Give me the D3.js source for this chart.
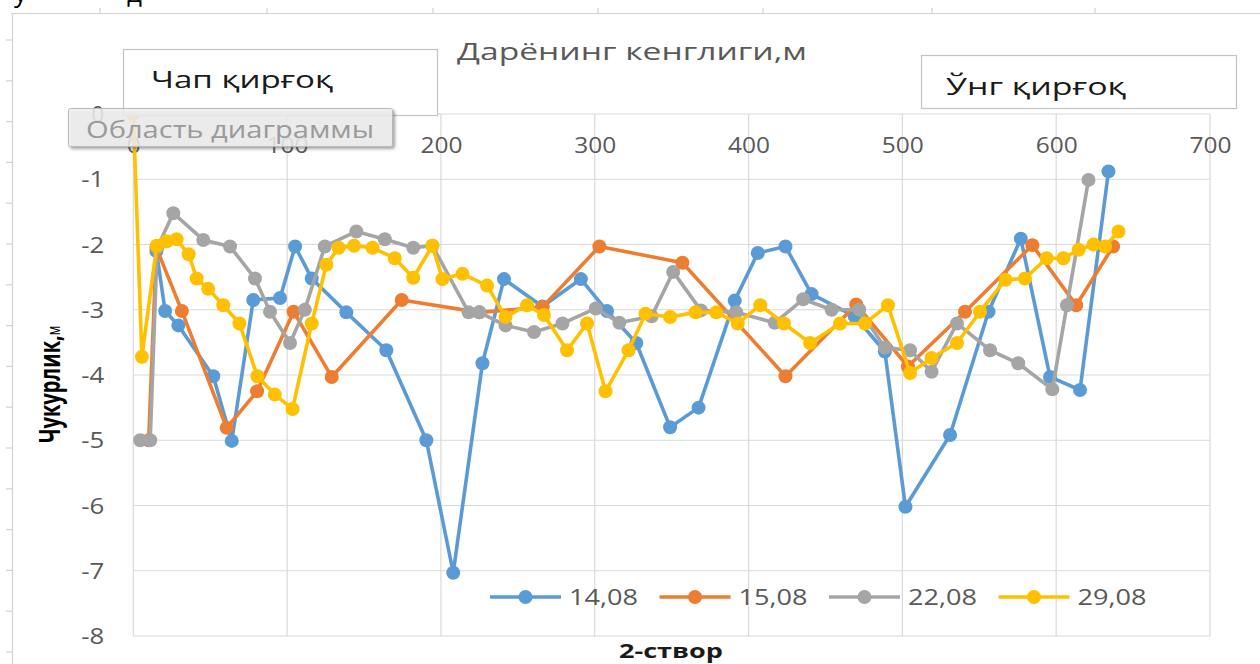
<!DOCTYPE html>
<html><head><meta charset="utf-8">
<script src="https://cdn.jsdelivr.net/npm/d3@7"></script>
<style>body{margin:0;background:#fff;overflow:hidden;} svg{display:block;}</style>
</head><body>
<svg id="c" width="1260" height="664"></svg>
<script>
// ---------- DATA ----------
const seriesNames = ["14,08", "15,08", "22,08", "29,08"];
const seriesColors = ["#5B9BD5", "#ED7D31", "#A5A5A5", "#FFC000"];

const x1408 = [15, 20.7, 29.3, 52, 64, 78, 95.4, 105.2, 116, 138.5, 164.5, 190.5, 208, 227, 241, 266, 291, 308, 327, 349, 367.5, 391, 406, 424, 441, 469, 488.6, 502, 531, 556, 577, 596, 615.5, 634];
const y1408 = [-2.1, -3.02, -3.24, -4.02, -5.01, -2.85, -2.82, -2.03, -2.52, -3.04, -3.62, -5.0, -7.03, -3.82, -2.53, -2.95, -2.53, -3.02, -3.51, -4.8, -4.5, -2.86, -2.13, -2.03, -2.76, -3.1, -3.64, -6.02, -4.92, -3.03, -1.91, -4.03, -4.23, -0.88];

const x1508 = [10, 15, 31.6, 60.7, 80.5, 104.2, 129, 174.5, 225, 266, 303, 357, 424, 470, 503.6, 540.7, 584.5, 613, 637];
const y1508 = [-5.0, -2.05, -3.02, -4.81, -4.25, -3.03, -4.03, -2.85, -3.04, -2.96, -2.03, -2.28, -4.02, -2.92, -3.87, -3.03, -2.01, -2.93, -2.03];

const x2208 = [4.5, 11, 15.5, 26, 45.5, 62.9, 79.1, 88.9, 101.9, 111.5, 124.5, 145, 163.5, 182, 194.5, 218, 225, 242, 260.5, 279, 300.7, 316, 337, 351, 369, 392, 417, 435.5, 454, 472, 488.6, 505, 519, 535.5, 557, 575.3, 597.5, 607, 621];
const y2208 = [-5, -5, -2.05, -1.52, -1.93, -2.03, -2.52, -3.03, -3.51, -3.0, -2.03, -1.8, -1.92, -2.05, -2.02, -3.04, -3.04, -3.24, -3.34, -3.21, -2.98, -3.2, -3.1, -2.42, -3.01, -3.04, -3.2, -2.84, -3.0, -3.0, -3.58, -3.62, -3.95, -3.21, -3.62, -3.82, -4.22, -2.93, -1.01];

const x2908 = [0, 5.6, 15.2, 21.7, 28.2, 36, 41.2, 48.7, 58.5, 69, 80.7, 92, 103.5, 116, 125.5, 133.5, 143.5, 155.5, 170, 182, 194.4, 201, 214, 230, 242, 256, 267, 282, 295, 307, 322, 333, 349, 365.5, 379, 393, 407.6, 423, 440, 459.5, 475.7, 490.6, 505, 519, 535.5, 550.5, 567, 579.7, 593.8, 604.7, 614.6, 624.3, 631.8, 640.5];
const y2908 = [0, -3.72, -2.02, -1.95, -1.92, -2.15, -2.52, -2.68, -2.93, -3.21, -4.02, -4.3, -4.52, -3.21, -2.31, -2.05, -2.02, -2.05, -2.21, -2.51, -2.02, -2.53, -2.45, -2.63, -3.11, -2.93, -3.08, -3.62, -3.21, -4.25, -3.62, -3.06, -3.11, -3.04, -3.04, -3.21, -2.93, -3.21, -3.51, -3.21, -3.21, -2.93, -3.97, -3.74, -3.51, -3.03, -2.54, -2.52, -2.21, -2.21, -2.08, -2.0, -2.03, -1.8];

const xTicks = [0, 100, 200, 300, 400, 500, 600, 700];
const yTicks = [0, -1, -2, -3, -4, -5, -6, -7, -8];

const chartTitle = "Дарёнинг кенглиги,м";
const leftBankLabel = "Чап қирғоқ";
const rightBankLabel = "Ўнг қирғоқ";
const tooltipLabel = "Область диаграммы";
const yAxisTitle = "Чукурлик,";
const yAxisUnit = "м";
const xAxisTitle = "2-створ";

// ---------- BUILD ----------
const xs = [x1408, x1508, x2208, x2908];
const ys = [y1408, y1508, y2208, y2908];
const series = seriesNames.map((name, i) => ({
  name, color: seriesColors[i],
  pts: xs[i].map((v, j) => ({x: v, y: ys[i][j]}))
}));

const FONT = "'Open Sans','Noto Sans','DejaVu Sans',sans-serif";
const svg = d3.select("#c");
const x = d3.scaleLinear().domain([0, 700]).range([133.3, 1210]);
const y = d3.scaleLinear().domain([0, -8]).range([114, 636]);

const defs = svg.append("defs");
const f = defs.append("filter").attr("id", "sh").attr("x", "-10%").attr("y", "-30%").attr("width", "130%").attr("height", "180%");
f.append("feDropShadow").attr("dx", 2).attr("dy", 2).attr("stdDeviation", 1.6).attr("flood-color", "#444").attr("flood-opacity", 0.55);

function txt(g, s, x0, yb, size, color, len, weight) {
  const t = g.append("text").attr("x", x0).attr("y", yb)
    .attr("font-family", FONT).attr("font-size", size)
    .attr("fill", color).attr("font-weight", weight || "normal").text(s);
  if (len) t.attr("textLength", len).attr("lengthAdjust", "spacingAndGlyphs");
  return t;
}

// chart-area border & ruler ticks
const deco = svg.append("g").attr("stroke", "#d2d2d2").attr("stroke-width", 1.2);
deco.append("line").attr("x1", 11).attr("y1", 13.5).attr("x2", 1260).attr("y2", 13.5);
deco.append("line").attr("x1", 12.5).attr("y1", 13).attr("x2", 12.5).attr("y2", 664);
[100, 267, 433, 598, 763, 932, 1095].forEach(p =>
  deco.append("line").attr("x1", p).attr("x2", p).attr("y1", 8).attr("y2", 13));
for (let k = 0; 40 + k * 40.8 < 664; k++) {
  const p = 40 + k * 40.8;
  deco.append("line").attr("x1", 6).attr("x2", 12).attr("y1", p).attr("y2", p);
}

// fragments of the text line above (cut by the top edge, as in the source)
txt(svg, "у", 14, 2, 26, "#000");
txt(svg, "д", 127, 2, 26, "#000");

// gridlines
const grid = svg.append("g").attr("stroke", "#d9d9d9").attr("stroke-width", 1.2);
grid.selectAll(".h").data(yTicks).join("line")
  .attr("x1", x(0)).attr("x2", x(700)).attr("y1", d => y(d)).attr("y2", d => y(d));
grid.selectAll(".v").data(xTicks).join("line")
  .attr("y1", y(0)).attr("y2", y(-8)).attr("x1", d => x(d)).attr("x2", d => x(d));

// x axis (labels below the 0 line)
const xAx = svg.append("g").attr("transform", `translate(0,${y(0)})`)
  .call(d3.axisBottom(x).tickValues(xTicks).tickSize(0).tickFormat(d3.format("d")));
xAx.select(".domain").remove();
xAx.selectAll("text").each(function(d) {
  const s = String(d), L = s.length * 14;
  d3.select(this).attr("y", 39).attr("dy", 0).attr("x", -L / 2)
    .attr("text-anchor", "start").attr("font-family", FONT).attr("font-size", 21)
    .attr("fill", "#595959").attr("textLength", L).attr("lengthAdjust", "spacingAndGlyphs");
});

// y axis
const yAx = svg.append("g").attr("transform", `translate(${x(0)},0)`)
  .call(d3.axisLeft(y).tickValues(yTicks).tickSize(0).tickFormat(d3.format("d")));
yAx.select(".domain").remove();
yAx.selectAll("text").each(function(d) {
  const s = d3.format("d")(d).replace("−", "-");
  const L = s.replace("-", "").length * 13 + (d < 0 ? 10 : 0);
  d3.select(this).text(s).attr("x", -29 - L).attr("dy", "0.36em")
    .attr("text-anchor", "start").attr("font-family", FONT).attr("font-size", 21)
    .attr("fill", "#595959").attr("textLength", L).attr("lengthAdjust", "spacingAndGlyphs");
});

// series
const line = d3.line().x(d => x(d.x)).y(d => y(d.y));
series.forEach(s => {
  const g = svg.append("g");
  g.append("path").attr("d", line(s.pts)).attr("fill", "none")
    .attr("stroke", s.color).attr("stroke-width", 3.6).attr("stroke-linejoin", "round");
  g.selectAll("circle").data(s.pts).join("circle")
    .attr("cx", d => x(d.x)).attr("cy", d => y(d.y)).attr("r", 7).attr("fill", s.color);
});

// legend
const lg = svg.append("g");
series.forEach((s, i) => {
  const lx = 490 + i * 169.5, ly = 597;
  lg.append("line").attr("x1", lx).attr("x2", lx + 71).attr("y1", ly).attr("y2", ly)
    .attr("stroke", s.color).attr("stroke-width", 3.6);
  lg.append("circle").attr("cx", lx + 35.5).attr("cy", ly).attr("r", 7).attr("fill", s.color);
  txt(lg, s.name, lx + 79, ly + 7.5, 22, "#595959", 69);
});

// title and bank labels
txt(svg, chartTitle, 457, 60, 23, "#595959", 350);
svg.append("rect").attr("x", 123.5).attr("y", 49.5).attr("width", 314).attr("height", 66)
  .attr("fill", "#fff").attr("stroke", "#c4c4c4").attr("stroke-width", 1.2);
txt(svg, leftBankLabel, 151, 88, 24, "#1a1a1a", 182);
svg.append("rect").attr("x", 921.5).attr("y", 55.5).attr("width", 315).attr("height", 53)
  .attr("fill", "#fff").attr("stroke", "#c4c4c4").attr("stroke-width", 1.2);
txt(svg, rightBankLabel, 946, 95, 24, "#1a1a1a", 180);

// axis titles
const yt = svg.append("text").attr("transform", "translate(60,378) scale(1.4,1) rotate(-90)")
  .attr("x", -65).attr("y", 0).attr("font-family", FONT).attr("fill", "#000");
yt.append("tspan").attr("font-weight", "bold").attr("font-size", 20).text(yAxisTitle);
yt.append("tspan").attr("font-size", 13).text(yAxisUnit);
txt(svg, xAxisTitle, 619, 658, 20, "#1a1a1a", 104, "bold");

// tooltip "chart area" (semi-transparent, over the plot as in the source)
svg.append("rect").attr("x", 68.5).attr("y", 108.5).attr("width", 324).attr("height", 38)
  .attr("rx", 2).attr("fill", "#f3f3f3").attr("fill-opacity", 0.8)
  .attr("stroke", "#b9b9b9").attr("stroke-width", 1).attr("filter", "url(#sh)");
txt(svg, tooltipLabel, 86, 138, 24, "#9a9a9a", 288);
</script>
</body></html>
